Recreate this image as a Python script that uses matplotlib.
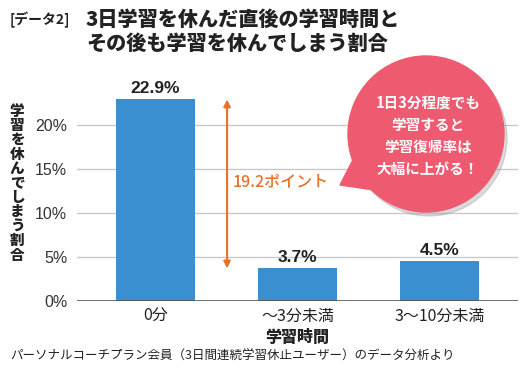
import matplotlib
matplotlib.use("Agg")
import matplotlib.pyplot as plt
from matplotlib.patches import Ellipse, Polygon

plt.rcParams['font.family'] = ['Noto Sans CJK JP', 'DejaVu Sans']

# data
categories = ['0分', '～3分未満', '3～10分未満']
values = [22.9, 3.7, 4.5]
value_labels = ['22.9%', '3.7%', '4.5%']
yticks = [0, 5, 10, 15, 20]
ytick_labels = ['0%', '5%', '10%', '15%', '20%']
diff_label = '19.2ポイント'

W, H = 532, 370
fig = plt.figure(figsize=(W / 100, H / 100), dpi=100)

def fx(px):
    return px / W

def fy(py):
    return 1 - py / H

ax = fig.add_axes([fx(77), fy(301), fx(518) - fx(77), fy(81) - fy(301)])
x = range(len(categories))
ax.bar(x, values, width=0.556, color='#3a8fd1', zorder=3)
ax.set_xlim(-0.553, 2.55)
ax.set_ylim(0, 25)

# grid and axes
for t in yticks[1:]:
    ax.axhline(t, color='#c8c8c8', lw=1, zorder=1)
ax.axhline(0, color='#555555', lw=1.2, zorder=4)
for s in ax.spines.values():
    s.set_visible(False)
ax.set_yticks(yticks)
ax.set_yticklabels(ytick_labels, fontsize=11.5, color='#333333', family='Liberation Sans')
ax.set_xticks(list(x))
ax.set_xticklabels(categories, fontsize=11.5, color='#222222')
ax.tick_params(length=0, pad=5)
ax.tick_params(axis='y', pad=7)

# value labels
for i, v in enumerate(values):
    ax.text(i, v + 0.4, value_labels[i], ha='center', va='bottom', fontsize=12.5,
            fontweight='bold', color='#222222', family='Liberation Sans')

# difference arrow
orange = '#e8712a'
ax.annotate('', xy=(0.503, values[0]), xytext=(0.503, values[1]),
            arrowprops=dict(arrowstyle='<|-|>', color=orange, lw=1.5,
                            mutation_scale=10, shrinkA=0, shrinkB=0), zorder=5)
ax.text(0.545, 13.5, diff_label, color=orange, fontsize=11.5, ha='left', va='center',
        fontweight='medium')

# speech bubble
pink = '#ee5a70'
cx, cy, r = 426, 134, 78
fig.patches.append(Ellipse((fx(cx + 3), fy(cy + 4)), 2 * r / W, 2 * r / H,
                           transform=fig.transFigure, color='#999999', alpha=0.35,
                           zorder=5))
fig.patches.append(Polygon([(fx(340), fy(185)), (fx(358), fy(150)), (fx(374), fy(190))],
                           closed=True, transform=fig.transFigure, color=pink, zorder=6))
fig.patches.append(Ellipse((fx(cx), fy(cy)), 2 * r / W, 2 * r / H,
                           transform=fig.transFigure, color=pink, zorder=6))
bubble_lines = ['1日3分程度でも', '学習すると', '学習復帰率は', '大幅に上がる！']
for k, line in enumerate(bubble_lines):
    fig.text(fx(428), fy(103 + 22 * k), line, color='white', fontsize=10.5,
             fontweight='bold', ha='center', va='center', zorder=7)

# titles
fig.text(fx(10), fy(20), '[データ2]', fontsize=10, fontweight='bold', color='#222222',
         va='center', ha='left')
fig.text(fx(86), fy(20), '3日学習を休んだ直後の学習時間と', fontsize=14.5,
         fontweight='heavy', color='#222222', va='center', ha='left')
fig.text(fx(86), fy(44), 'その後も学習を休んでしまう割合', fontsize=14.5,
         fontweight='heavy', color='#222222', va='center', ha='left')

# y label, stacked characters
ylab = '学習を休んでしまう割合'
fig.text(fx(17), fy(183), '\n'.join(ylab), fontsize=10.5, fontweight='heavy',
         color='#222222', ha='center', va='center', linespacing=0.95)

# x label and footnote
fig.text(fx(297), fy(337), '学習時間', fontsize=11.5, fontweight='heavy', color='#222222',
         ha='center', va='center')
fig.text(fx(10), fy(356), 'パーソナルコーチプラン会員（3日間連続学習休止ユーザー）のデータ分析より',
         fontsize=9, color='#222222', ha='left', va='center')

fig.savefig('out.png', dpi=100)
